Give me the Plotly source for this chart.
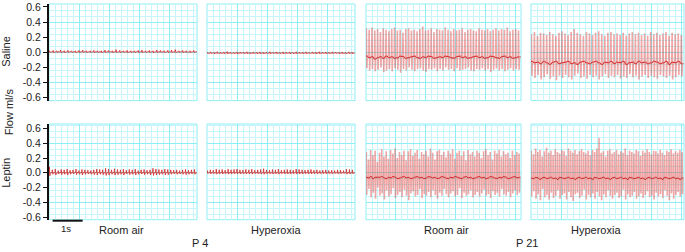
import plotly.graph_objects as go

# ---------------- data (flow, ml/s) ----------------
row_labels = ["Saline", "Leptin"]
col_labels = ["Room air", "Hyperoxia", "Room air", "Hyperoxia"]
age_labels = ["P 4", "P 21"]
y_ticks = [-0.6, -0.4, -0.2, 0.0, 0.2, 0.4, 0.6]
y_tick_text = ["-0.6", "-0.4", "-0.2", "0.0", "0.2", "0.4", "0.6"]
durations = [4.93, 4.93, 5.17, 5.10]  # seconds shown per column

# Saline, P4, room air
sal_p4_air_peak = [0.02, 0.025, 0.02, 0.03, 0.02, 0.025, 0.02, 0.02, 0.025, 0.03, 0.02, 0.02, 0.025, 0.02,
                   0.02, 0.03, 0.025, 0.02, 0.035, 0.025, 0.02, 0.025, 0.02, 0.02, 0.025, 0.03, 0.02, 0.025,
                   0.02, 0.03, 0.025, 0.02, 0.025, 0.03, 0.035, 0.02, 0.025, 0.02, 0.02, 0.025]
sal_p4_air_trough = [-0.005, -0.008, -0.004, -0.006, -0.007, -0.005, -0.004, -0.008, -0.006, -0.005, -0.007,
                     -0.004, -0.006, -0.005, -0.008, -0.006, -0.004, -0.007, -0.005, -0.006, -0.004, -0.008,
                     -0.005, -0.006, -0.007, -0.004, -0.005, -0.006, -0.008, -0.005, -0.004, -0.006, -0.007,
                     -0.005, -0.006, -0.004, -0.008, -0.005, -0.006, -0.005]
sal_p4_air_base = [0.005, 0.004, 0.006, 0.005, 0.004, 0.005, 0.006, 0.004, 0.005, 0.006, 0.005, 0.004, 0.005,
                   0.006, 0.004, 0.005, 0.005, 0.006, 0.004, 0.005, 0.006, 0.004, 0.005, 0.005, 0.006, 0.004,
                   0.005, 0.006, 0.004, 0.005, 0.005, 0.004, 0.006, 0.005, 0.004, 0.005, 0.006, 0.004, 0.005, 0.005]

# Saline, P4, hyperoxia
sal_p4_hyp_peak = [0.0, 0.005, 0.0, 0.008, 0.002, 0.005, 0.01, 0.003, 0.0, 0.006, 0.004, 0.002, 0.007, 0.0,
                   0.005, 0.003, 0.006, 0.0, 0.004, 0.008, 0.002, 0.005, 0.0, 0.006, 0.003, 0.005, 0.0, 0.007,
                   0.004, 0.002, 0.006, 0.0, 0.005, 0.003, 0.007, 0.002, 0.005, 0.0, 0.006, 0.004, 0.002, 0.005,
                   0.0, 0.006, 0.003]
sal_p4_hyp_trough = [-0.02, -0.018, -0.022, -0.017, -0.02, -0.019, -0.021, -0.018, -0.02, -0.022, -0.017, -0.019,
                     -0.02, -0.021, -0.018, -0.02, -0.019, -0.022, -0.018, -0.02, -0.017, -0.021, -0.019, -0.02,
                     -0.018, -0.022, -0.02, -0.019, -0.017, -0.021, -0.02, -0.018, -0.019, -0.022, -0.02, -0.018,
                     -0.021, -0.019, -0.02, -0.017, -0.02, -0.019, -0.021, -0.018, -0.02]
sal_p4_hyp_base = [-0.01, -0.011, -0.009, -0.01, -0.012, -0.01, -0.009, -0.011, -0.01, -0.01, -0.012, -0.009,
                   -0.01, -0.011, -0.01, -0.009, -0.012, -0.01, -0.011, -0.01, -0.009, -0.01, -0.011, -0.012,
                   -0.01, -0.009, -0.01, -0.011, -0.01, -0.012, -0.009, -0.01, -0.011, -0.01, -0.009, -0.012,
                   -0.01, -0.011, -0.01, -0.009, -0.01, -0.011, -0.012, -0.01, -0.01]

# Saline, P21, room air
sal_p21_air_peak = [0.32, 0.30, 0.33, 0.29, 0.31, 0.27, 0.32, 0.30, 0.28, 0.31, 0.33, 0.29, 0.30, 0.26, 0.31,
                    0.32, 0.29, 0.30, 0.28, 0.31, 0.34, 0.29, 0.30, 0.32, 0.27, 0.31, 0.30, 0.29, 0.33, 0.30,
                    0.28, 0.31, 0.29, 0.30, 0.32, 0.27, 0.30, 0.31, 0.29, 0.28, 0.32, 0.30, 0.29, 0.31, 0.28,
                    0.30, 0.32, 0.29, 0.31, 0.30, 0.33, 0.28, 0.30, 0.31, 0.29]
sal_p21_air_trough = [-0.21, -0.24, -0.22, -0.25, -0.23, -0.20, -0.26, -0.24, -0.22, -0.25, -0.21, -0.23, -0.27,
                      -0.22, -0.24, -0.20, -0.23, -0.25, -0.22, -0.21, -0.24, -0.26, -0.22, -0.23, -0.21, -0.25,
                      -0.22, -0.24, -0.20, -0.23, -0.22, -0.25, -0.21, -0.24, -0.23, -0.22, -0.20, -0.24, -0.25,
                      -0.22, -0.23, -0.21, -0.24, -0.22, -0.26, -0.23, -0.21, -0.24, -0.22, -0.25, -0.23, -0.21,
                      -0.24, -0.22, -0.23]
sal_p21_air_base = [-0.05, -0.07, -0.06, -0.09, -0.07, -0.06, -0.08, -0.05, -0.07, -0.06, -0.08, -0.07, -0.05,
                    -0.06, -0.08, -0.07, -0.06, -0.05, -0.07, -0.08, -0.06, -0.07, -0.05, -0.06, -0.08, -0.07,
                    -0.06, -0.07, -0.05, -0.06, -0.07, -0.08, -0.06, -0.05, -0.07, -0.06, -0.08, -0.07, -0.06,
                    -0.05, -0.07, -0.06, -0.08, -0.07, -0.05, -0.06, -0.07, -0.08, -0.06, -0.05, -0.07, -0.06,
                    -0.08, -0.07, -0.06]

# Saline, P21, hyperoxia
sal_p21_hyp_peak = [0.24, 0.27, 0.22, 0.26, 0.25, 0.23, 0.27, 0.24, 0.22, 0.26, 0.28, 0.25, 0.23, 0.27, 0.31,
                    0.26, 0.24, 0.22, 0.27, 0.25, 0.23, 0.26, 0.28, 0.24, 0.22, 0.26, 0.27, 0.24, 0.25, 0.23,
                    0.26, 0.22, 0.25, 0.27, 0.24, 0.26, 0.23, 0.25, 0.22, 0.27, 0.24, 0.26, 0.23, 0.25, 0.27,
                    0.22, 0.26, 0.24, 0.25, 0.23]
sal_p21_hyp_trough = [-0.31, -0.34, -0.30, -0.36, -0.33, -0.29, -0.35, -0.32, -0.37, -0.31, -0.34, -0.30, -0.33,
                      -0.36, -0.31, -0.28, -0.34, -0.32, -0.35, -0.30, -0.33, -0.31, -0.36, -0.32, -0.29, -0.34,
                      -0.31, -0.33, -0.30, -0.35, -0.32, -0.34, -0.29, -0.33, -0.31, -0.36, -0.32, -0.30, -0.34,
                      -0.31, -0.33, -0.35, -0.30, -0.32, -0.34, -0.31, -0.36, -0.33, -0.30, -0.32]
sal_p21_hyp_base = [-0.12, -0.14, -0.13, -0.15, -0.12, -0.14, -0.16, -0.13, -0.12, -0.15, -0.14, -0.13, -0.12,
                    -0.15, -0.14, -0.16, -0.13, -0.12, -0.14, -0.15, -0.13, -0.12, -0.14, -0.16, -0.13, -0.14,
                    -0.12, -0.15, -0.13, -0.14, -0.12, -0.16, -0.14, -0.13, -0.15, -0.12, -0.14, -0.13, -0.15,
                    -0.14, -0.12, -0.13, -0.15, -0.14, -0.12, -0.16, -0.13, -0.14, -0.12, -0.15]

# Leptin, P4, room air
lep_p4_air_peak = [0.08, 0.04, 0.05, 0.03, 0.045, 0.04, 0.05, 0.035, 0.04, 0.05, 0.03, 0.045, 0.04, 0.035,
                   0.03, 0.04, 0.05, 0.045, 0.04, 0.06, 0.05, 0.04, 0.055, 0.045, 0.04, 0.05, 0.035, 0.045,
                   0.04, 0.05, 0.03, 0.04, 0.045, 0.035, 0.04, 0.06, 0.05, 0.045, 0.04, 0.05, 0.045, 0.04,
                   0.035, 0.04, 0.03, 0.04, 0.045, 0.035, 0.04, 0.045]
lep_p4_air_trough = [-0.04, -0.02, -0.03, -0.015, -0.025, -0.02, -0.03, -0.02, -0.015, -0.025, -0.02, -0.03,
                     -0.02, -0.015, -0.02, -0.025, -0.03, -0.02, -0.025, -0.035, -0.03, -0.02, -0.03, -0.025,
                     -0.02, -0.03, -0.015, -0.025, -0.02, -0.03, -0.02, -0.015, -0.025, -0.02, -0.03, -0.035,
                     -0.03, -0.025, -0.02, -0.03, -0.025, -0.02, -0.015, -0.02, -0.015, -0.02, -0.025, -0.02,
                     -0.015, -0.02]
lep_p4_air_base = [0.0, 0.002, -0.002, 0.0, 0.003, 0.0, -0.002, 0.002, 0.0, 0.003, -0.001, 0.0, 0.002, 0.0,
                   -0.002, 0.0, 0.003, 0.002, 0.0, -0.002, 0.0, 0.002, 0.0, 0.003, -0.001, 0.0, 0.002, 0.0,
                   -0.002, 0.0, 0.003, 0.0, -0.001, 0.002, 0.0, 0.0, 0.002, -0.002, 0.0, 0.003, 0.0, -0.001,
                   0.002, 0.0, -0.002, 0.0, 0.003, 0.0, 0.002, 0.0]

# Leptin, P4, hyperoxia
lep_p4_hyp_peak = [0.03, 0.04, 0.035, 0.05, 0.04, 0.045, 0.035, 0.05, 0.04, 0.045, 0.05, 0.04, 0.035, 0.045,
                   0.04, 0.05, 0.035, 0.04, 0.045, 0.055, 0.04, 0.035, 0.045, 0.04, 0.05, 0.035, 0.04, 0.045,
                   0.04, 0.035, 0.05, 0.045, 0.04, 0.035, 0.04, 0.045, 0.035, 0.04, 0.03, 0.035, 0.04, 0.03,
                   0.035, 0.03, 0.04, 0.035, 0.03, 0.05, 0.045, 0.04]
lep_p4_hyp_trough = [-0.01, -0.015, -0.012, -0.018, -0.014, -0.016, -0.012, -0.018, -0.015, -0.013, -0.017,
                     -0.014, -0.012, -0.016, -0.015, -0.018, -0.012, -0.014, -0.016, -0.02, -0.015, -0.012,
                     -0.016, -0.014, -0.018, -0.012, -0.015, -0.016, -0.014, -0.012, -0.017, -0.015, -0.014,
                     -0.012, -0.015, -0.016, -0.012, -0.014, -0.01, -0.012, -0.014, -0.01, -0.012, -0.01,
                     -0.014, -0.012, -0.01, -0.018, -0.016, -0.014]
lep_p4_hyp_base = [0.0, 0.002, 0.0, -0.002, 0.0, 0.002, 0.0, 0.001, -0.001, 0.0, 0.002, 0.0, -0.002, 0.0,
                   0.001, 0.0, 0.002, 0.0, -0.001, 0.0, 0.002, 0.0, -0.002, 0.0, 0.001, 0.0, 0.002, -0.001,
                   0.0, 0.0, 0.002, 0.0, -0.002, 0.0, 0.001, 0.0, 0.002, 0.0, -0.001, 0.0, 0.002, 0.0, -0.002,
                   0.0, 0.001, 0.0, 0.002, 0.0, -0.001, 0.0]

# Leptin, P21, room air
lep_p21_air_peak = [0.28, 0.18, 0.31, 0.24, 0.30, 0.15, 0.27, 0.32, 0.22, 0.29, 0.19, 0.31, 0.26, 0.33, 0.20,
                    0.28, 0.24, 0.30, 0.17, 0.29, 0.32, 0.23, 0.27, 0.31, 0.19, 0.28, 0.25, 0.30, 0.22, 0.33,
                    0.27, 0.18, 0.29, 0.31, 0.24, 0.28, 0.21, 0.30, 0.26, 0.32, 0.19, 0.27, 0.30, 0.23, 0.29,
                    0.17, 0.31, 0.25, 0.28, 0.22, 0.30, 0.27, 0.20, 0.29, 0.32, 0.24, 0.28, 0.18, 0.30, 0.26,
                    0.31, 0.22, 0.29, 0.25, 0.27, 0.20, 0.30, 0.24, 0.28, 0.26]
lep_p21_air_trough = [-0.30, -0.22, -0.33, -0.27, -0.35, -0.20, -0.31, -0.28, -0.36, -0.24, -0.32, -0.29, -0.21,
                      -0.34, -0.30, -0.26, -0.33, -0.23, -0.31, -0.37, -0.28, -0.25, -0.32, -0.30, -0.22, -0.34,
                      -0.29, -0.31, -0.26, -0.33, -0.24, -0.30, -0.35, -0.27, -0.31, -0.22, -0.29, -0.33, -0.28,
                      -0.25, -0.32, -0.30, -0.21, -0.34, -0.27, -0.31, -0.29, -0.24, -0.33, -0.30, -0.26, -0.32,
                      -0.28, -0.23, -0.31, -0.29, -0.34, -0.25, -0.30, -0.27, -0.32, -0.22, -0.29, -0.31, -0.26,
                      -0.33, -0.28, -0.24, -0.30, -0.27]
lep_p21_air_base = [-0.06, -0.07, -0.05, -0.08, -0.06, -0.07, -0.06, -0.05, -0.07, -0.08, -0.06, -0.07, -0.05,
                    -0.06, -0.08, -0.07, -0.06, -0.05, -0.07, -0.06, -0.08, -0.07, -0.06, -0.05, -0.07, -0.06,
                    -0.08, -0.07, -0.05, -0.06, -0.07, -0.06, -0.08, -0.07, -0.05, -0.06, -0.07, -0.08, -0.06,
                    -0.07, -0.05, -0.06, -0.07, -0.08, -0.06, -0.05, -0.07, -0.06, -0.08, -0.07, -0.06, -0.05,
                    -0.07, -0.06, -0.08, -0.07, -0.05, -0.06, -0.07, -0.08, -0.06, -0.07, -0.05, -0.06, -0.08,
                    -0.07, -0.06, -0.05, -0.07, -0.06]

# Leptin, P21, hyperoxia
lep_p21_hyp_peak = [0.30, 0.25, 0.33, 0.28, 0.31, 0.22, 0.29, 0.34, 0.27, 0.30, 0.24, 0.32, 0.28, 0.26, 0.31,
                    0.29, 0.23, 0.33, 0.30, 0.27, 0.31, 0.25, 0.29, 0.32, 0.28, 0.26, 0.30, 0.24, 0.31, 0.28,
                    0.33, 0.47, 0.27, 0.29, 0.22, 0.30, 0.32, 0.26, 0.28, 0.31, 0.25, 0.29, 0.27, 0.33, 0.24,
                    0.30, 0.28, 0.26, 0.31, 0.29, 0.23, 0.30, 0.27, 0.32, 0.28, 0.25, 0.30, 0.29, 0.26, 0.31,
                    0.27, 0.24, 0.30, 0.28, 0.32, 0.26, 0.29, 0.27, 0.31, 0.28]
lep_p21_hyp_trough = [-0.32, -0.25, -0.35, -0.29, -0.37, -0.22, -0.33, -0.30, -0.36, -0.27, -0.34, -0.31, -0.24,
                      -0.35, -0.30, -0.28, -0.36, -0.26, -0.33, -0.38, -0.29, -0.27, -0.34, -0.31, -0.23, -0.36,
                      -0.30, -0.33, -0.28, -0.35, -0.26, -0.32, -0.37, -0.29, -0.33, -0.24, -0.31, -0.35, -0.30,
                      -0.27, -0.34, -0.32, -0.23, -0.36, -0.29, -0.33, -0.31, -0.26, -0.35, -0.32, -0.28, -0.34,
                      -0.30, -0.25, -0.33, -0.31, -0.36, -0.27, -0.32, -0.29, -0.34, -0.24, -0.31, -0.37, -0.28,
                      -0.35, -0.30, -0.26, -0.32, -0.29]
lep_p21_hyp_base = [-0.07, -0.08, -0.06, -0.07, -0.09, -0.07, -0.06, -0.08, -0.07, -0.06, -0.08, -0.07, -0.09,
                    -0.06, -0.07, -0.08, -0.07, -0.06, -0.08, -0.07, -0.09, -0.07, -0.06, -0.08, -0.07, -0.06,
                    -0.08, -0.07, -0.09, -0.06, -0.07, -0.08, -0.07, -0.06, -0.08, -0.07, -0.09, -0.07, -0.06,
                    -0.08, -0.07, -0.06, -0.08, -0.07, -0.09, -0.06, -0.07, -0.08, -0.07, -0.06, -0.08, -0.07,
                    -0.09, -0.07, -0.06, -0.08, -0.07, -0.06, -0.08, -0.07, -0.09, -0.06, -0.07, -0.08, -0.07,
                    -0.06, -0.08, -0.07, -0.09, -0.07]

panels = [
    (sal_p4_air_peak, sal_p4_air_trough, sal_p4_air_base),
    (sal_p4_hyp_peak, sal_p4_hyp_trough, sal_p4_hyp_base),
    (sal_p21_air_peak, sal_p21_air_trough, sal_p21_air_base),
    (sal_p21_hyp_peak, sal_p21_hyp_trough, sal_p21_hyp_base),
    (lep_p4_air_peak, lep_p4_air_trough, lep_p4_air_base),
    (lep_p4_hyp_peak, lep_p4_hyp_trough, lep_p4_hyp_base),
    (lep_p21_air_peak, lep_p21_air_trough, lep_p21_air_base),
    (lep_p21_hyp_peak, lep_p21_hyp_trough, lep_p21_hyp_base),
]

# ---------------- layout geometry (pixels) ----------------
W, H = 685, 252
col_px = [(49, 197), (207, 355), (366, 521), (531, 684)]
row_px = [(1, 100), (124, 222)]
row_ranges = [[-0.64, 0.64], [-0.635, 0.66]]


def xd(a, b):
    return [a / W, b / W]


def yd(top, bot):
    return [1 - bot / H, 1 - top / H]


GRID_MAJOR = "#8eeef4"
GRID_MINOR = "#c6f6f9"
FONT = "Liberation Sans, Arial, sans-serif"

fig = go.Figure()
layout = dict(
    width=W, height=H, margin=dict(l=0, r=0, t=0, b=0),
    paper_bgcolor="white", plot_bgcolor="white", showlegend=False,
    font=dict(family=FONT, color="#222", size=11),
)
shapes = []

for i, (pk, tr, bs) in enumerate(panels):
    r, c = divmod(i, 4)
    n = i + 1
    xname = "x" if n == 1 else f"x{n}"
    yname = "y" if n == 1 else f"y{n}"
    dur = durations[c]
    nb = len(pk)
    dt = dur / nb
    xs, ys, bx, by = [], [], [], []
    for k, (p, t, b) in enumerate(zip(pk, tr, bs)):
        t0 = k * dt
        xs += [t0, t0 + 0.12 * dt, t0 + 0.3 * dt, t0 + 0.45 * dt]
        ys += [b, p, t, b]
        bx += [t0, t0 + 0.45 * dt]
        by += [b, b]
    xs.append(dur)
    ys.append(bs[-1])
    p21 = c >= 2
    fig.add_trace(go.Scatter(
        x=xs, y=ys, mode="lines", xaxis=xname, yaxis=yname, hoverinfo="skip",
        line=dict(color="rgba(230,80,80,0.5)" if p21 else "rgba(214,50,50,0.85)",
                  width=1.6 if p21 else 1),
    ))
    if p21:
        fig.add_trace(go.Scatter(
            x=bx, y=by, mode="lines", xaxis=xname, yaxis=yname, hoverinfo="skip",
            line=dict(color="rgba(205,25,25,0.85)", width=1),
        ))
    axx = "xaxis" if n == 1 else f"xaxis{n}"
    axy = "yaxis" if n == 1 else f"yaxis{n}"
    layout[axx] = dict(
        domain=xd(*col_px[c]), anchor=yname, range=[0, dur],
        showticklabels=False, ticks="", zeroline=False, showline=False,
        showgrid=True, gridcolor=GRID_MAJOR, gridwidth=1, dtick=1, tick0=0,
        minor=dict(showgrid=True, gridcolor=GRID_MINOR, dtick=0.2, tick0=0, ticks=""),
    )
    layout[axy] = dict(
        domain=yd(*row_px[r]), anchor=xname, range=row_ranges[r],
        showticklabels=False, ticks="", zeroline=False, showline=False,
        showgrid=True, gridcolor=GRID_MAJOR, gridwidth=1, dtick=0.4, tick0=0,
        minor=dict(showgrid=True, gridcolor=GRID_MINOR, dtick=0.08, tick0=0, ticks=""),
    )
    shapes.append(dict(type="rect", xref=f"{xname} domain", yref=f"{yname} domain",
                       x0=0, x1=1, y0=0, y1=1, line=dict(color=GRID_MAJOR, width=1),
                       layer="below"))

# overlay axes carrying the tick labels for the first column
for r in range(2):
    n = 9 + r
    base_y = "y" if r == 0 else "y5"
    base_x = "x" if r == 0 else "x5"
    layout[f"yaxis{n}"] = dict(
        overlaying=base_y, anchor=base_x, side="left", range=row_ranges[r],
        tickmode="array", tickvals=y_ticks, ticktext=y_tick_text,
        ticks="outside", ticklen=4, tickwidth=1, tickcolor="#111",
        showline=True, linecolor="#111", linewidth=2, ticklabeloverflow="allow",
        showgrid=False, zeroline=False, tickfont=dict(size=10.5, color="#222"),
    )
    fig.add_trace(go.Scatter(x=[], y=[], xaxis=base_x, yaxis=f"y{n}", hoverinfo="skip"))

# 1 s scale bar under the bottom-left panel
shapes.append(dict(type="line", xref="x5", yref="paper", x0=0.12, x1=1.12,
                   y0=1 - 223 / H, y1=1 - 223 / H, line=dict(color="#111", width=2)))

ann = []


def text(s, x, y, size=11, angle=0, xanchor="center"):
    ann.append(dict(text=s, x=x / W, y=1 - y / H, xref="paper", yref="paper", showarrow=False,
                    font=dict(size=size, family=FONT, color="#222"), textangle=angle,
                    xanchor=xanchor, yanchor="middle"))


text(row_labels[0], 6, 50, angle=-90)
text(row_labels[1], 6, 174, angle=-90)
text("Flow ml/s", 9, 112, angle=-90)
text("1s", 66, 231, size=9.5)
for c, lab in enumerate(col_labels):
    cx = [121, 276, 447, 596][c]
    text(lab, cx, 233)
text(age_labels[0], 200, 246)
text(age_labels[1], 527, 246)

layout["shapes"] = shapes
layout["annotations"] = ann
fig.update_layout(**layout)
fig.write_html("out.html", config={"displayModeBar": False, "staticPlot": True},
               post_script="document.body.style.margin='0';document.body.style.overflow='hidden';")
